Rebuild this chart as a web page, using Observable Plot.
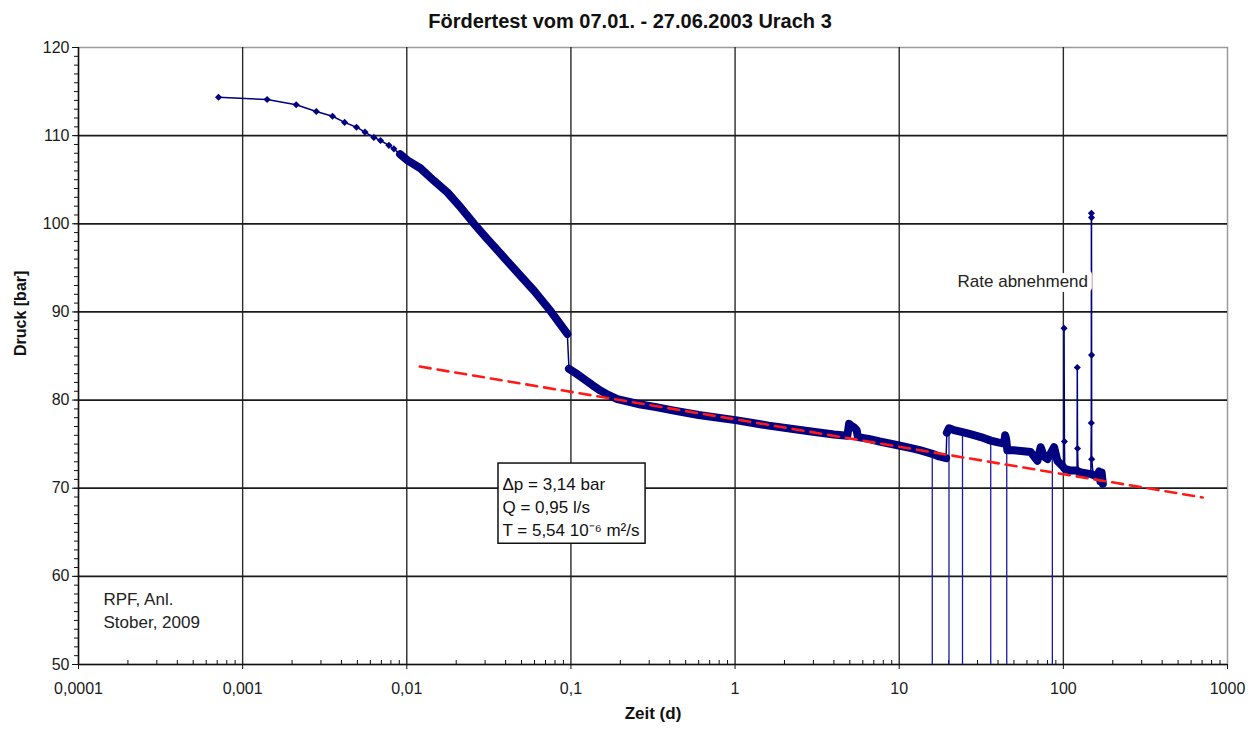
<!DOCTYPE html>
<html><head><meta charset="utf-8">
<script src="https://cdn.jsdelivr.net/npm/d3@7"></script>
<script src="https://cdn.jsdelivr.net/npm/@observablehq/plot@0.6"></script>
<style>
body{margin:0;background:#fff;font-family:"Liberation Sans",Arial,sans-serif;}
#title{width:1260px;height:40px;line-height:42px;text-align:center;font-weight:bold;font-size:20px;color:#111;}
</style></head><body>
<div id="title">Fördertest vom 07.01. - 27.06.2003 Urach 3</div>
<div id="chart"></div>
<script>
// ---- readings: time since start (days) and pressure (bar) ----
const earlyDays = [0.000713, 0.00141, 0.00212, 0.00281, 0.00353, 0.00418, 0.00494, 0.00556, 0.0063, 0.00692, 0.00778, 0.00834];
const earlyBar  = [114.36, 114.1, 113.5, 112.74, 112.2, 111.5, 110.96, 110.4, 109.8, 109.45, 108.9, 108.5];

const segADays = [0.0091, 0.0101, 0.0121, 0.0146, 0.0177, 0.0213, 0.0257, 0.0309, 0.0373, 0.0471, 0.0596, 0.0752, 0.0951];
const segABar  = [107.9, 107.2, 106.3, 104.9, 103.55, 101.85, 100.0, 98.3, 96.6, 94.5, 92.4, 90.1, 87.5];

const segBDays = [0.0973, 0.108, 0.120, 0.135, 0.152, 0.170, 0.192, 0.220, 0.266, 0.330, 0.425, 0.600, 1.03, 1.60, 2.76, 4.00, 4.83, 4.95, 5.10, 5.30, 5.50, 5.60, 6.50, 7.60, 9.97, 12.2, 13.5, 15.9, 17.5, 19.3];
const segBBar  = [83.55, 83.0, 82.4, 81.7, 81.05, 80.55, 80.1, 79.85, 79.5, 79.2, 78.8, 78.3, 77.7, 77.1, 76.5, 76.1, 75.95, 77.3, 77.1, 76.9, 76.6, 75.8, 75.6, 75.3, 74.85, 74.5, 74.3, 73.9, 73.6, 73.4];

const segCDays = [19.5, 20.1, 21.5, 24.3, 27.5, 31.4, 36.1, 40, 43.6, 44.2, 44.8, 45.6, 50, 57, 63.3, 69.5, 72.8, 76, 80, 87.8, 92, 100, 100.8, 102, 111, 121.2, 123, 128, 147, 152, 160, 165, 168, 171, 174];
const segCBar  = [76.3, 76.8, 76.6, 76.35, 76.1, 75.8, 75.4, 75.2, 75.05, 76.0, 75.6, 74.3, 74.3, 74.2, 74.1, 73.1, 74.65, 73.6, 73.3, 74.65, 73.1, 72.4, 72.3, 72.2, 72.0, 72.0, 71.9, 71.8, 71.6, 71.5, 71.3, 71.9, 70.8, 71.8, 70.5];

// pressure spikes while the rate decreases
const spikeDays = [101, 101.5, 121.6, 122, 148, 148.2, 148.4, 148.6, 148.8];
const spikeBar  = [88.15, 75.3, 83.7, 74.5, 77.4, 101.2, 100.7, 85.1, 73.3];

// logger drop-outs (reading fell to zero)
const dropDays    = [15.9, 20.1, 24.3, 36.1, 45.2, 85.7];
const dropFromBar = [73.9, 76.8, 76.35, 75.4, 74.3, 74.0];
const dropToBar   = [0, 0, 0, 0, 0, 0];

// semi-log straight-line fit (Cooper-Jacob)
const fitDays = [0.0120, 706];
const fitBar  = [83.8, 68.95];

// axes
const xTickValues = [0.0001, 0.001, 0.01, 0.1, 1, 10, 100, 1000];
const yTickValues = [50, 60, 70, 80, 90, 100, 110, 120];
const xLabel = "Zeit (d)";
const yLabel = "Druck [bar]";

// annotations
const noteText = "\u0394p = 3,14 bar\nQ = 0,95 l/s\nT = 5,54 10\u207B\u2076 m\u00B2/s";
const noteBoxDays = [0.0362, 0.285];
const noteBoxBar  = [63.7, 72.8];
const rateText = "Rate abnehmend";
const rateAtDays = [56.6];
const rateAtBar  = [93.45];
const creditText = "RPF, Anl.\nStober, 2009";

// ---- build tables ----
const rows = (days, bar, seg) => days.map((t, i) => ({t, p: bar[i], seg}));
const early = rows(earlyDays, earlyBar, "early");
const segA = rows(segADays, segABar, "A");
const segB = rows(segBDays, segBBar, "B");
const segC = rows(segCDays, segCBar, "C");
const spikes = rows(spikeDays, spikeBar, "spike");
const all = [...early, ...segA, ...segB, ...segC, ...spikes].sort((a, b) => a.t - b.t);
const dense = [...segA, ...segB, ...segC];
const drops = dropDays.map((t, i) => ({t, from: dropFromBar[i], to: dropToBar[i]}));
const fit = rows(fitDays, fitBar, "fit");
const noteBox = [{x1: noteBoxDays[0], x2: noteBoxDays[1], y1: noteBoxBar[0], y2: noteBoxBar[1], text: noteText}];
const rateRows = rateAtDays.map((t, i) => ({t, p: rateAtBar[i], text: rateText}));

const xMinor = [];
for (let e = -4; e < 3; e++) for (let m = 2; m < 10; m++) xMinor.push(+(m * Math.pow(10, e)).toPrecision(3));
const yMinor = d3.range(yTickValues[0], yTickValues[yTickValues.length - 1] + 1, 1);

const navy = "#000080";

const chart = Plot.plot({
  width: 1260, height: 690,
  marginTop: 7, marginBottom: 66, marginLeft: 78, marginRight: 33,
  style: {fontFamily: '"Liberation Sans", Arial, sans-serif', fontSize: "16px", color: "#111", background: "white", overflow: "visible"},
  x: {type: "log", domain: [xTickValues[0], xTickValues[xTickValues.length - 1]], label: null},
  y: {domain: [yTickValues[0], yTickValues[yTickValues.length - 1]], label: null},
  marks: [
    Plot.frame({stroke: "#9a9a9a", strokeWidth: 1.5}),
    Plot.gridX(xTickValues.slice(1, -1), {stroke: "#2a2a2a", strokeOpacity: 1, strokeWidth: 1.4}),
    Plot.gridY(yTickValues.slice(1, -1), {stroke: "#1a1a1a", strokeOpacity: 1, strokeWidth: 1.7}),
    Plot.rect(noteBox, {x1: "x1", x2: "x2", y1: "y1", y2: "y2", fill: "white", stroke: "#111", strokeWidth: 1.5}),
    Plot.axisY(yMinor, {anchor: "left", tickSize: 4, tickFormat: () => "", stroke: "#111"}),
    Plot.axisY(yTickValues, {anchor: "left", tickSize: 6, tickPadding: 3, tickFormat: d => String(d), fontSize: 16, stroke: "#111", fill: "#1a1a1a"}),
    Plot.axisX(xMinor, {anchor: "bottom", tickSize: -4, tickFormat: () => "", stroke: "#111"}),
    Plot.axisX(xTickValues, {anchor: "bottom", tickSize: 5, tickPadding: 13, tickFormat: d => String(d).replace(".", ","), fontSize: 16, stroke: "#111", fill: "#1a1a1a"}),
    Plot.ruleX([xTickValues[0]], {stroke: "#111", strokeWidth: 1.5}),
    Plot.ruleY([yTickValues[0]], {stroke: "#111", strokeWidth: 1.5}),
    Plot.ruleX(drops, {x: "t", y1: "from", y2: "to", stroke: "#1a1aa8", strokeWidth: 1.3, clip: true}),
    Plot.line(all, {x: "t", y: "p", stroke: navy, strokeWidth: 1.5, clip: true}),
    Plot.line(dense, {x: "t", y: "p", z: "seg", stroke: navy, strokeWidth: 8, strokeLinecap: "round", strokeLinejoin: "round"}),
    Plot.dot(all, {x: "t", y: "p", symbol: "diamond2", r: 3.2, fill: navy, stroke: "none"}),
    Plot.line(fit, {x: "t", y: "p", stroke: "#ff1a1a", strokeWidth: 2.6, strokeDasharray: "11,7"}),
    Plot.text(noteBox, {x: "x1", y: "y2", text: "text", textAnchor: "start", lineAnchor: "top", dx: 4, dy: 10, lineHeight: 1.35, fontSize: 17, fill: "#111"}),
    Plot.text(rateRows, {x: "t", y: "p", text: "text", fontSize: 17, fill: "#222", stroke: "white", strokeWidth: 10, paintOrder: "stroke"}),
    Plot.text([creditText], {frameAnchor: "bottom-left", text: d => d, textAnchor: "start", lineAnchor: "bottom", dx: 25, dy: -37, lineHeight: 1.3, fontSize: 17, fill: "#222"}),
    Plot.text([xLabel], {frameAnchor: "bottom", text: d => d, dy: 54, fontSize: 17, fontWeight: "bold", fill: "#111"}),
    Plot.text([yLabel], {frameAnchor: "left", text: d => d, dx: -58, rotate: -90, fontSize: 16, fontWeight: "bold", fill: "#111"})
  ]
});
document.getElementById("chart").appendChild(chart);
</script></body></html>
